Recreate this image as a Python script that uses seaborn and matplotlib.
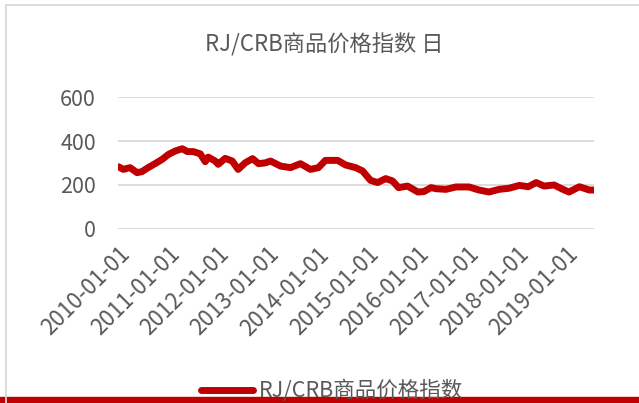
import pandas as pd
import seaborn as sns
import matplotlib.pyplot as plt
from matplotlib.lines import Line2D
from matplotlib.patches import Rectangle

# values
dates = ["2010-01-03", "2010-02-07", "2010-03-29", "2010-05-19", "2010-06-25", "2010-08-08",
         "2010-09-28", "2010-11-20", "2011-01-04", "2011-02-24", "2011-04-16", "2011-05-22",
         "2011-07-05", "2011-08-25", "2011-10-01", "2011-10-23", "2011-12-13", "2012-01-04",
         "2012-02-24", "2012-04-16", "2012-05-29", "2012-07-20", "2012-09-12", "2012-10-26",
         "2012-12-16", "2013-01-22", "2013-04-05", "2013-06-17", "2013-08-29", "2013-11-10",
         "2014-01-08", "2014-02-28", "2014-05-29", "2014-07-26", "2014-10-07", "2014-11-27",
         "2015-01-25", "2015-03-18", "2015-05-16", "2015-07-06", "2015-08-18", "2015-10-23",
         "2016-01-07", "2016-02-20", "2016-04-12", "2016-05-19", "2016-07-31", "2016-10-12",
         "2017-01-16", "2017-03-30", "2017-06-11", "2017-08-24", "2017-11-05", "2018-01-19",
         "2018-03-26", "2018-05-23", "2018-07-20", "2018-10-01", "2018-12-05", "2019-01-19",
         "2019-04-05", "2019-06-17", "2019-07-23"]
values = [283, 271, 279, 256, 261, 279,
          297, 317, 339, 355, 365, 352,
          352, 342, 306, 327, 309, 294,
          321, 309, 271, 301, 320, 297,
          301, 309, 286, 279, 297, 271,
          279, 312, 312, 291, 279, 264,
          221, 211, 229, 218, 188, 195,
          168, 170, 188, 183, 180, 191,
          191, 177, 168, 180, 185, 198,
          192, 211, 195, 200, 180, 168,
          192, 177, 177]
tick_years = list(range(2010, 2020))
series_name = "RJ/CRB商品价格指数"

df = pd.DataFrame({"date": pd.to_datetime(dates), "value": values})

sns.set_style("white")
plt.rcParams['font.family'] = ['Noto Sans CJK SC', 'DejaVu Sans']

fig = plt.figure(figsize=(6.39, 4.03), dpi=100)
ax = fig.add_axes([0.185, 0.432, 0.745, 0.327])

red = "#C00000"
txt = "#595959"
sns.lineplot(data=df, x="date", y="value", ax=ax, color=red, linewidth=5,
             solid_joinstyle="round", solid_capstyle="round", label=series_name)

ax.set_ylim(0, 600)
ax.set_yticks([0, 200, 400, 600])
ax.set_xlim(pd.Timestamp("2010-01-01"), df["date"].iloc[-1])
ticks = pd.to_datetime([f"{y}-01-01" for y in tick_years])
ax.set_xticks(ticks)
ax.set_xticklabels([t.strftime("%Y-%m-%d") for t in ticks], rotation=45, ha="right",
                   rotation_mode="anchor")
ax.tick_params(axis="both", length=0, labelcolor=txt)
ax.tick_params(axis="x", pad=10, labelsize=16)
ax.tick_params(axis="y", pad=16, labelsize=15.5)
ax.yaxis.grid(True, color="#D9D9D9", linewidth=1.3)
ax.set_axisbelow(True)
for s in ax.spines.values():
    s.set_visible(False)
ax.set_xlabel("")
ax.set_ylabel("")

fig.text(0.507, 0.888, "RJ/CRB商品价格指数 日", ha="center", va="center", fontsize=16, color=txt)

ax.get_legend().remove()
handle = Line2D([], [], color=red, linewidth=5, solid_capstyle="round")
fig.legend([handle], [series_name], loc="center", bbox_to_anchor=(0.52, 0.03), frameon=False,
           fontsize=15.5, labelcolor=txt, handlelength=2.4, handletextpad=0.3)

# chart border and red strip at bottom
fig.add_artist(Line2D([0.009, 0.009], [0.0, 0.988], color="#D9D9D9", linewidth=1.3))
fig.add_artist(Line2D([0.009, 1.0], [0.988, 0.988], color="#D9D9D9", linewidth=1.3))
fig.add_artist(Rectangle((0, 0), 1, 0.014, color=red, transform=fig.transFigure))

fig.savefig("out.png", dpi=100)
